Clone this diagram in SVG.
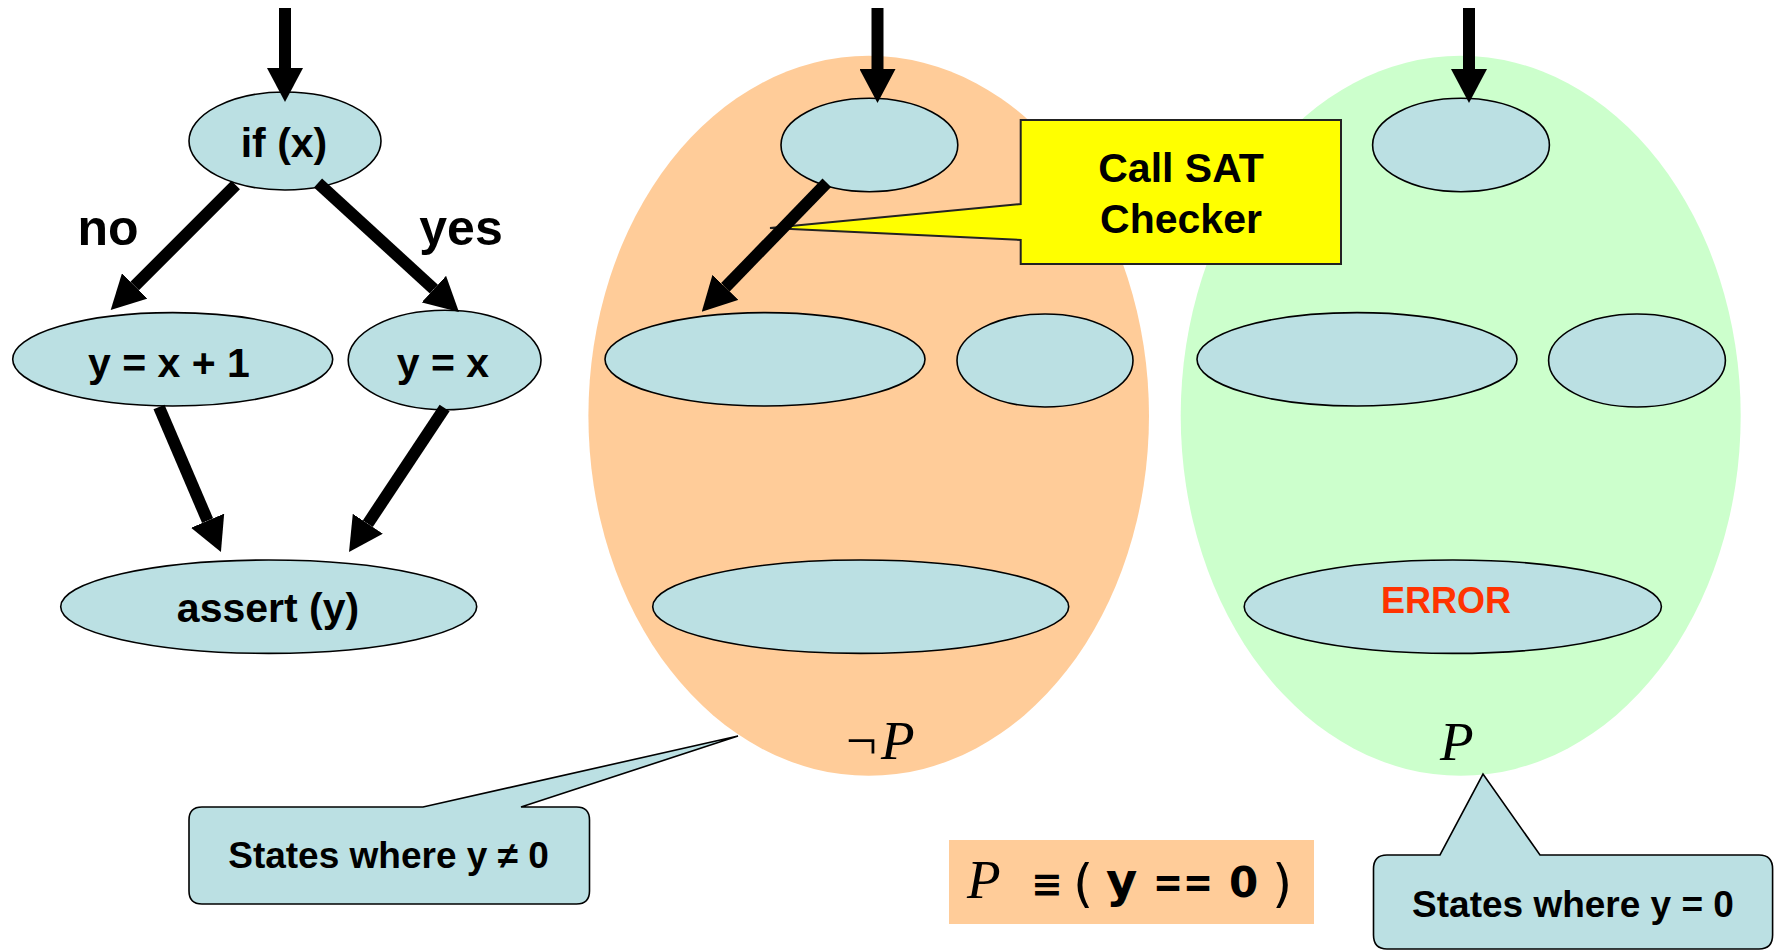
<svg xmlns="http://www.w3.org/2000/svg" width="1780" height="951" viewBox="0 0 1780 951">
<style>
.node{fill:#BBE0E3;stroke:#000;stroke-width:1.6}
.lbl{font-family:"Liberation Sans",Arial,sans-serif;font-weight:bold;font-size:41px;fill:#000;text-anchor:middle}
.edge{stroke:#000;stroke-width:12;fill:none}
.math{font-family:"Liberation Serif","Times New Roman",serif;font-style:italic;font-size:55px;fill:#000}
.call{fill:#BBE0E3;stroke:#000;stroke-width:1.6}
.ctext{font-family:"Liberation Sans",Arial,sans-serif;font-weight:bold;font-size:37px;fill:#000;text-anchor:middle}
.fs{font-family:"DejaVu Sans","Liberation Sans",sans-serif;font-weight:bold;fill:#000}
</style>
<defs>
<marker id="ah" viewBox="0 0 10 10" refX="0" refY="5" markerWidth="2.83" markerHeight="3" markerUnits="strokeWidth" orient="auto" preserveAspectRatio="none">
<path d="M0,0 L10,5 L0,10 z" fill="#000"/>
</marker>
</defs>
<rect width="1780" height="951" fill="#fff"/>

<g id="region-notP">
<ellipse cx="868.7" cy="415.8" rx="280.3" ry="360" fill="#FFCC99"/>
<text class="math" x="846" y="759"><tspan font-style="normal">¬</tspan><tspan x="881">P</tspan></text>
</g>
<g id="region-P">
<ellipse cx="1460.7" cy="415.8" rx="280" ry="360" fill="#CCFFCC"/>
<text class="math" x="1440" y="760">P</text>
</g>

<g id="n-if"><ellipse class="node" cx="285" cy="141" rx="96" ry="49"/><text class="lbl" x="284" y="157">if (x)</text></g>
<g id="n-y1"><ellipse class="node" cx="172.7" cy="359.3" rx="160" ry="46.7"/><text class="lbl" x="169" y="377">y = x + 1</text></g>
<g id="n-y2"><ellipse class="node" cx="444.6" cy="360" rx="96.4" ry="49.7"/><text class="lbl" x="443" y="377">y = x</text></g>
<g id="n-assert"><ellipse class="node" cx="268.7" cy="606.7" rx="208" ry="46.7"/><text class="lbl" x="268" y="622">assert (y)</text></g>

<g id="m-top"><ellipse class="node" cx="869.4" cy="145" rx="88.4" ry="46.7"/></g>
<g id="m-left"><ellipse class="node" cx="765" cy="359.3" rx="160" ry="46.7"/></g>
<g id="m-right"><ellipse class="node" cx="1045" cy="360.5" rx="88" ry="46.5"/></g>
<g id="m-bottom"><ellipse class="node" cx="860.7" cy="606.7" rx="208" ry="46.7"/></g>

<g id="r-top"><ellipse class="node" cx="1461" cy="145" rx="88.4" ry="46.7"/></g>
<g id="r-left"><ellipse class="node" cx="1357" cy="359.3" rx="160" ry="46.7"/></g>
<g id="r-right"><ellipse class="node" cx="1637" cy="360.5" rx="88.4" ry="46.5"/></g>
<g id="r-error"><ellipse class="node" cx="1452.8" cy="606.7" rx="208.6" ry="46.7"/><text class="lbl" x="1446" y="613" style="fill:#FF3300;font-size:36px">ERROR</text></g>

<g id="callout-sat">
<path d="M1020.7,120 H1341 V264 H1020.7 V240 L770,228 L1020.7,204 Z" fill="#FFFF00" stroke="#222" stroke-width="2"/>
<text class="lbl" x="1181" y="182">Call SAT</text>
<text class="lbl" x="1181" y="233">Checker</text>
</g>

<g id="connectors">
<line class="edge" x1="285" y1="8" x2="285" y2="68" marker-end="url(#ah)"/>
<line class="edge" x1="235.7" y1="185" x2="134.7" y2="286" marker-end="url(#ah)"/>
<line class="edge" x1="318" y1="183" x2="433.9" y2="289.1" marker-end="url(#ah)"/>
<line class="edge" x1="159" y1="407" x2="207.6" y2="520.7" marker-end="url(#ah)"/>
<line class="edge" x1="444.6" y1="408" x2="367.8" y2="523.7" marker-end="url(#ah)"/>
<line class="edge" x1="877.5" y1="8" x2="877.5" y2="69" marker-end="url(#ah)"/>
<line class="edge" x1="826.8" y1="182.7" x2="725.4" y2="287.3" marker-end="url(#ah)"/>
<line class="edge" x1="1469" y1="8" x2="1469" y2="69" marker-end="url(#ah)"/>
</g>

<g id="edge-labels">
<text class="lbl" x="108" y="245" style="font-size:50px">no</text>
<text class="lbl" x="461" y="245" style="font-size:50px">yes</text>
</g>

<g id="callout-neq">
<path d="M202,807 H423 L738,736 L521,807 H576.5 Q589.5,807 589.5,820 V891 Q589.5,904 576.5,904 H202 Q189,904 189,891 V820 Q189,807 202,807 Z" class="call"/>
<text class="ctext" x="388.5" y="868">States where y ≠ 0</text>
</g>

<g id="callout-eq">
<path d="M1387,855 H1440 L1483,774 L1540,855 H1759 Q1772.6,855 1772.6,869 V935 Q1772.6,949 1759,949 H1387 Q1373.5,949 1373.5,935 V869 Q1373.5,855 1387,855 Z" class="call"/>
<text class="ctext" x="1573" y="917">States where y = 0</text>
</g>

<g id="formula">
<rect x="949" y="840" width="365" height="84" fill="#FFCC99"/>
<text class="math" x="967" y="898">P</text>
<text class="fs" y="897"><tspan x="1031" style="font-size:38px">≡</tspan><tspan x="1073" style="font-size:52px;font-weight:normal" dy="4">(</tspan><tspan x="1106" style="font-size:48px" dy="-4">y</tspan><tspan x="1153" style="font-size:44px" textLength="60" lengthAdjust="spacingAndGlyphs">==</tspan><tspan x="1229" style="font-size:42px">0</tspan><tspan x="1272" style="font-size:52px;font-weight:normal" dy="4">)</tspan></text>
</g>
</svg>
